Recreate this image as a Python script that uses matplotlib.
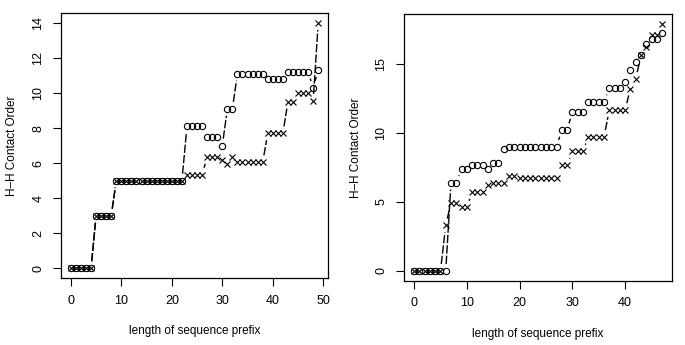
import numpy as np
import matplotlib
matplotlib.use("Agg")
import matplotlib.pyplot as plt

plt.rcParams['font.family'] = ['Liberation Sans', 'DejaVu Sans']

# left panel: contact order vs prefix length (two runs, "o" and "x")
x_left = np.arange(0, 50)
o_left = ([0.0] * 5 + [3.0] * 4 + [5.0] * 14 + [8.1] * 4 + [7.5] * 3 + [7.0]
          + [9.1] * 2 + [11.1] * 6 + [10.8] * 4 + [11.2] * 5 + [10.3, 11.3])
c_left = ([0.0] * 5 + [3.0] * 4 + [5.0] * 14 + [5.35] * 4 + [6.35] * 3
          + [6.15, 5.95, 6.35] + [6.05] * 6 + [7.7] * 4 + [9.5] * 2
          + [10.0] * 3 + [9.55, 14.0])

# right panel
x_right = np.arange(0, 48)
o_right = ([0.0] * 7 + [6.4] * 2 + [7.4] * 2 + [7.7] * 3 + [7.4] + [7.85] * 2
           + [8.8] + [9.0] * 10 + [10.2] * 2 + [11.5] * 3 + [12.25] * 4
           + [13.25] * 3 + [13.7, 14.55, 15.15, 15.6, 16.4] + [16.8] * 2 + [17.2])
c_right = ([0.0] * 6 + [3.3] + [4.95] * 2 + [4.6] * 2 + [5.7] * 3 + [6.2]
           + [6.4] * 3 + [6.9] * 2 + [6.75] * 8 + [7.65] * 2 + [8.65] * 3
           + [9.7] * 4 + [11.65] * 4 + [13.2, 13.9, 15.6, 16.2] + [17.1] * 2
           + [17.9])

left_xticks = [0, 10, 20, 30, 40, 50]
left_yticks = [0, 2, 4, 6, 8, 10, 12, 14]
right_xticks = [0, 10, 20, 30, 40]
right_yticks = [0, 5, 10, 15]

GAP = 7  # pixels left blank around each point (R type="b")


def r_limits(vals):
    lo, hi = min(vals), max(vals)
    pad = 0.04 * (hi - lo)
    return lo - pad, hi + pad


def draw_b(ax, xs, ys, marker, ms):
    # segments with gaps around points, like R's type="b"
    pts = ax.transData.transform(np.column_stack([xs, ys]))
    inv = ax.transData.inverted()
    for p, q in zip(pts[:-1], pts[1:]):
        d = np.hypot(*(q - p))
        if d <= 2 * GAP:
            continue
        u = (q - p) / d
        a, b = inv.transform([p + u * GAP, q - u * GAP])
        ax.plot([a[0], b[0]], [a[1], b[1]], color='black', lw=1.0,
                ls=(0, (6, 1.5)), solid_capstyle='butt')
    if marker == 'o':
        ax.plot(xs, ys, ls='none', marker='o', ms=ms, mfc='none',
                mec='black', mew=0.8)
    else:
        ax.plot(xs, ys, ls='none', marker='x', ms=ms, color='black', mew=0.8)


def setup(ax, xs, ys_all, xticks, yticks):
    ax.set_xlim(*r_limits(xs))
    ax.set_ylim(*r_limits(ys_all))
    ax.set_xticks(xticks)
    ax.set_yticks(yticks)
    ax.tick_params(direction='out', length=6, width=0.8, labelsize=9, pad=6)
    for lab in ax.get_yticklabels():
        lab.set_rotation(90)
        lab.set_va('center')
    for s in ax.spines.values():
        s.set_linewidth(0.9)
    ax.set_xlabel('length of sequence prefix', fontsize=8.5, labelpad=13)
    ax.set_ylabel('H\u2013H Contact Order', fontsize=8.5, labelpad=10)


fig = plt.figure(figsize=(6.85, 3.45), dpi=100)
ax1 = fig.add_axes([0.089, 0.194, 0.390, 0.768])
ax2 = fig.add_axes([0.590, 0.186, 0.391, 0.774])

setup(ax1, x_left, o_left + c_left, left_xticks, left_yticks)
setup(ax2, x_right, o_right + c_right, right_xticks, right_yticks)

draw_b(ax1, x_left, o_left, 'o', 4.5)
draw_b(ax1, x_left, c_left, 'x', 4)
draw_b(ax2, x_right, o_right, 'o', 4.5)
draw_b(ax2, x_right, c_right, 'x', 4)

fig.savefig('out.png', dpi=100)
